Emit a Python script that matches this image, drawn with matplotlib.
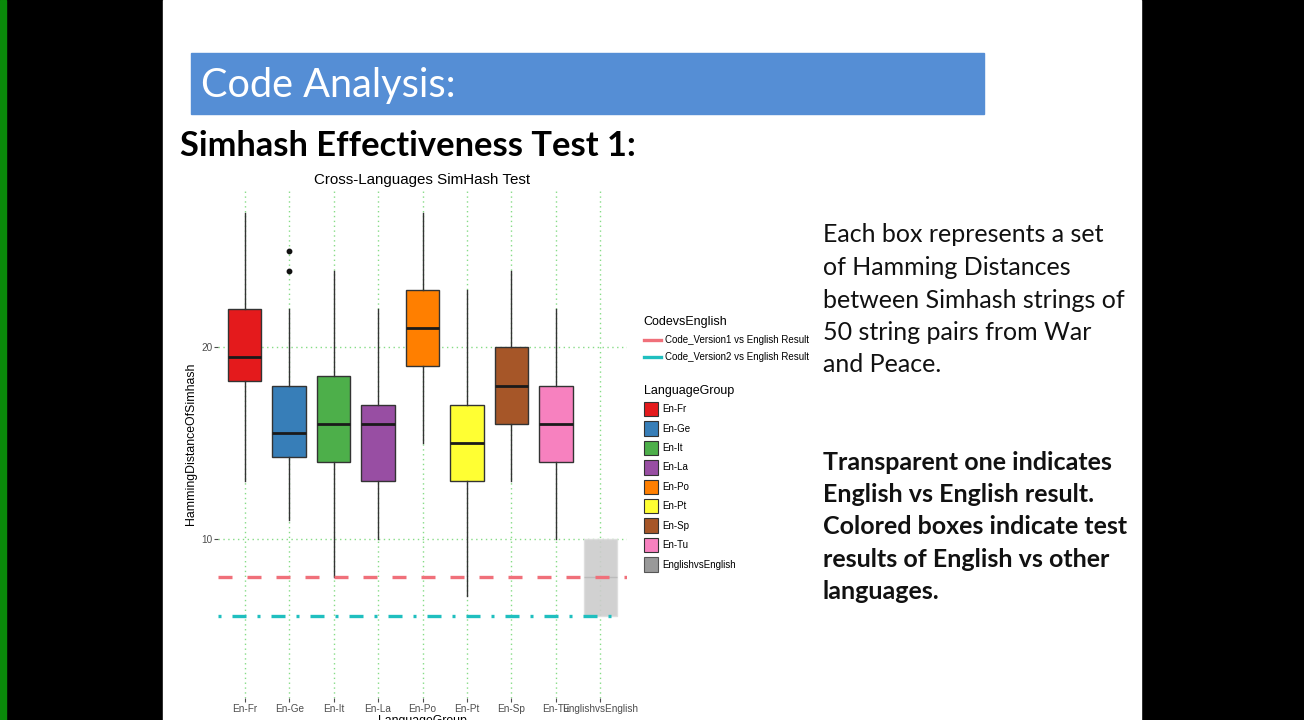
import matplotlib
matplotlib.use('Agg')
import matplotlib.pyplot as plt
from matplotlib.patches import Rectangle, Patch
from matplotlib.lines import Line2D

# box statistics (Hamming distances)
groups = ['En-Fr', 'En-Ge', 'En-It', 'En-La', 'En-Po', 'En-Pt', 'En-Sp', 'En-Tu', 'EnglishvsEnglish']
whis_lo = [13, 11, 8, 10, 15, 7, 13, 10, 6]
q1 = [18.25, 14.25, 14, 13, 19, 13, 16, 14, 6]
med = [19.5, 15.5, 16, 16, 21, 15, 18, 16, 8]
q3 = [22, 18, 18.5, 17, 23, 17, 20, 18, 10]
whis_hi = [27, 22, 24, 22, 27, 23, 24, 22, 10]
outliers = [[], [24, 25], [], [], [], [], [], [], []]
colors = ['#E41A1C', '#377EB8', '#4DAF4A', '#984EA3', '#FF7F00', '#FFFF33', '#A65628', '#F781BF', '#CCCCCC']

code_v1 = 8
code_v2 = 6

W, H = 1304, 720
fig = plt.figure(figsize=(W / 100, H / 100), dpi=100)

# slide background, pixel coordinates
bg = fig.add_axes([0, 0, 1, 1])
bg.set_xlim(0, W)
bg.set_ylim(H, 0)
bg.axis('off')
bg.add_patch(Rectangle((0, 0), W, H, color='black'))
bg.add_patch(Rectangle((0, 0), 6, H, color='#0A8A0A'))
bg.add_patch(Rectangle((163, 0), 978, H, color='white'))
bg.add_patch(Rectangle((191, 53), 793, 61, color='#558ED5'))
bg.text(201, 85, 'Code Analysis:', color='white', fontsize=28.6, family='Lato', va='center')
bg.text(180, 146, 'Simhash Effectiveness Test 1:', color='black', fontsize=24.8,
        family='Lato', fontweight='bold', va='center')

note1 = ['Each box represents a set', 'of Hamming Distances', 'between Simhash strings of',
         '50 string pairs from War', 'and Peace.']
note2 = ['Transparent one indicates', 'English vs English result.', 'Colored boxes indicate test',
         'results of English vs other', 'languages.']
for i, line in enumerate(note1):
    bg.text(823, 235 + i * 32.5, line, fontsize=18, family='Lato', va='center', color='#111111')
for i, line in enumerate(note2):
    bg.text(823, 462 + i * 32.4, line, fontsize=18, family='Lato', fontweight='bold',
            va='center', color='#111111')

# chart panel
ax = fig.add_axes([218 / W, (H - 698) / H, 409 / W, 508 / H])
ax.set_facecolor('white')
pos = list(range(1, len(groups) + 1))
stats = []
for i, g in enumerate(groups):
    stats.append(dict(label=g, whislo=whis_lo[i], q1=q1[i], med=med[i], q3=q3[i],
                      whishi=whis_hi[i], fliers=outliers[i]))
bp = ax.bxp(stats, positions=pos, widths=0.75, patch_artist=True, showcaps=False,
            boxprops=dict(edgecolor='#333333', linewidth=1.0),
            medianprops=dict(color='#1A1A1A', linewidth=2.0),
            whiskerprops=dict(color='#333333', linewidth=1.0),
            flierprops=dict(marker='o', markerfacecolor='#111111', markeredgecolor='#111111',
                            markersize=3.2))
for patch, c in zip(bp['boxes'], colors):
    patch.set_facecolor(c)
# the English vs English box is drawn transparent
bp['boxes'][-1].set_edgecolor('#DDDDDD')
bp['boxes'][-1].set_alpha(0.9)
bp['medians'][-1].set_color('#BBBBBB')
bp['medians'][-1].set_linewidth(1.0)

ax.axhline(code_v1, color='#F0707A', linewidth=2.4, dashes=(4.2, 4.5), zorder=4)
ax.axhline(code_v2, color='#1FBFBF', linewidth=2.4, dashes=(0.9, 3.3, 4.2, 3.3),
           dash_capstyle='butt', xmax=0.98, zorder=4)

ax.set_xlim(0.4, 9.6)
ax.set_ylim(1.7, 28.2)
ax.set_yticks([10, 20])
ax.set_xticks(pos)
ax.set_xticklabels(groups)
ax.grid(True, color='#86DC86', linestyle=(0, (1, 2.5)), linewidth=1.0)
ax.set_axisbelow(True)
for s in ax.spines.values():
    s.set_visible(False)
ax.tick_params(colors='#4D4D4D', labelsize=7.2, length=3, width=0.8, labelcolor='#4D4D4D', pad=1)
for lab in ax.get_xticklabels() + ax.get_yticklabels():
    lab.set_family('Liberation Sans')
ax.set_title('Cross-Languages SimHash Test', fontsize=10.9, family='Liberation Sans', pad=4)
ax.set_ylabel('HammingDistanceOfSimhash', fontsize=8.8, family='Liberation Sans', labelpad=3)
ax.set_xlabel('LanguageGroup', fontsize=8.8, family='Liberation Sans', labelpad=1)

# legends
line_handles = [Line2D([], [], color='#F0707A', linewidth=2.4),
                Line2D([], [], color='#1FBFBF', linewidth=2.4)]
leg1 = fig.legend(line_handles, ['Code_Version1 vs English Result', 'Code_Version2 vs English Result'],
                  title='CodevsEnglish', loc='upper left', bbox_to_anchor=(635 / W, 1 - 307 / H),
                  frameon=False, title_fontsize=9, handlelength=1.8,
                  handletextpad=0.35, labelspacing=0.75, alignment='left',
                  prop={'family': 'Liberation Sans', 'size': 7})
leg1.get_title().set_family('Liberation Sans')
box_handles = [Patch(facecolor=c, edgecolor='#333333', linewidth=0.8) for c in colors[:-1]]
box_handles.append(Patch(facecolor='#999999', edgecolor='#555555', linewidth=0.8))
leg2 = fig.legend(box_handles, groups, title='LanguageGroup', loc='upper left',
                  bbox_to_anchor=(635 / W, 1 - 376 / H), frameon=False,
                  title_fontsize=9, handlelength=1.5, handleheight=1.9,
                  handletextpad=0.4, labelspacing=0.52, alignment='left',
                  prop={'family': 'Liberation Sans', 'size': 7})
leg2.get_title().set_family('Liberation Sans')

fig.savefig('out.png', dpi=100)
